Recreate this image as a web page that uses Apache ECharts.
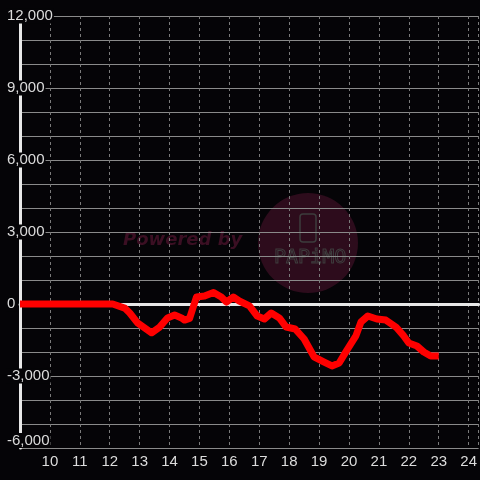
<!DOCTYPE html>
<html>
<head>
<meta charset="utf-8">
<script src="https://cdn.jsdelivr.net/npm/echarts@6/dist/echarts.min.js"></script>
<style>
  html, body { margin: 0; padding: 0; background: #050407; }
  #chart { width: 480px; height: 480px; }
</style>
</head>
<body>
<div id="chart"></div>
<script>
// hour of day (x) and value (y)
const hours = [9, 12.1, 12.5, 12.67, 12.93, 13.4, 13.67, 13.93, 14.17, 14.4, 14.5, 14.67,
  14.9, 15.17, 15.47, 15.73, 15.9, 16.13, 16.33, 16.67, 16.93, 17.17, 17.4, 17.67, 17.9,
  18.2, 18.5, 18.83, 19.17, 19.43, 19.67, 19.93, 20.23, 20.4, 20.63, 20.93, 21.23, 21.57,
  21.83, 22, 22.27, 22.5, 22.73, 23];
const values = [0, 0, -170, -375, -790, -1200, -960, -580, -460, -580, -670, -600,
  290, 330, 480, 290, 80, 290, 125, -80, -500, -625, -375, -580, -960,
  -1040, -1460, -2200, -2420, -2580, -2460, -1920, -1330, -750, -500, -625, -670, -960,
  -1330, -1625, -1750, -2000, -2170, -2170];
const xTicks = [10, 11, 12, 13, 14, 15, 16, 17, 18, 19, 20, 21, 22, 23, 24];
const yTickStep = 3000;

const chart = echarts.init(document.getElementById('chart'));
const labelColor = '#dcdcdc';
const bg = '#050407';

chart.setOption({
  backgroundColor: bg,
  animation: false,
  textStyle: { fontFamily: 'Liberation Sans' },
  grid: { left: 20, right: 0, top: 16, bottom: 32 },
  xAxis: [
    {
      type: 'value',
      min: 9,
      max: 24.3333,
      interval: 1,
      axisLine: { show: false, onZero: false },
      axisTick: { show: false },
      axisLabel: {
        color: labelColor,
        fontSize: 15,
        margin: 6,
        showMinLabel: false,
        showMaxLabel: false,
        formatter: (v) => (xTicks.includes(v) ? String(v) : ''),
      },
      splitLine: {
        show: true,
        lineStyle: { color: '#7a7a7a', width: 1, type: [3, 3] },
      },
    },
    {
      // white line at zero
      type: 'value',
      min: 9,
      max: 24.3333,
      axisLine: { show: true, onZero: true, lineStyle: { color: '#e8e8e8', width: 3 } },
      axisTick: { show: false },
      axisLabel: { show: false },
      splitLine: { show: false },
    },
  ],
  yAxis: {
    type: 'value',
    min: -6000,
    max: 12000,
    interval: 1000,
    axisLine: { show: true, lineStyle: { color: '#e8e8e8', width: 3 } },
    axisTick: { show: false },
    axisLabel: {
      color: labelColor,
      fontSize: 15,
      align: 'left',
      margin: 14,
      backgroundColor: bg,
      padding: [0, 1],
      verticalAlignMinLabel: 'bottom',
      formatter: (v) => (v % yTickStep === 0 ? v.toLocaleString('en-US') : ''),
    },
    splitLine: { show: true, lineStyle: { color: '#8a8a8a', width: 1 } },
  },
  graphic: [
    {
      type: 'circle',
      z: -10,
      shape: { cx: 308, cy: 243, r: 50 },
      style: { fill: '#2d0c1c' },
    },
    {
      type: 'text',
      z: -10,
      x: 123,
      y: 231,
      style: {
        text: 'Powered by',
        fill: '#3b0f23',
        font: 'italic bold 18px "DejaVu Sans"',
      },
    },
    {
      type: 'rect',
      z: -10,
      shape: { x: 300, y: 214, width: 16, height: 28, r: 3 },
      style: { fill: 'none', stroke: '#3c3c3c', lineWidth: 1.5 },
    },
    {
      type: 'text',
      z: -10,
      x: 274,
      y: 248,
      style: {
        text: 'PAPiMO',
        fill: 'none',
        stroke: '#3e3e3e',
        lineWidth: 1,
        font: '20px "DejaVu Sans Mono"',
      },
    },
  ],
  series: [
    {
      type: 'line',
      data: hours.map((h, i) => [h, values[i]]),
      showSymbol: false,
      silent: true,
      color: '#ff0000',
      lineStyle: { color: '#ff0000', width: 7, cap: 'butt', join: 'round' },
      z: 5,
    },
  ],
});
</script>
</body>
</html>
